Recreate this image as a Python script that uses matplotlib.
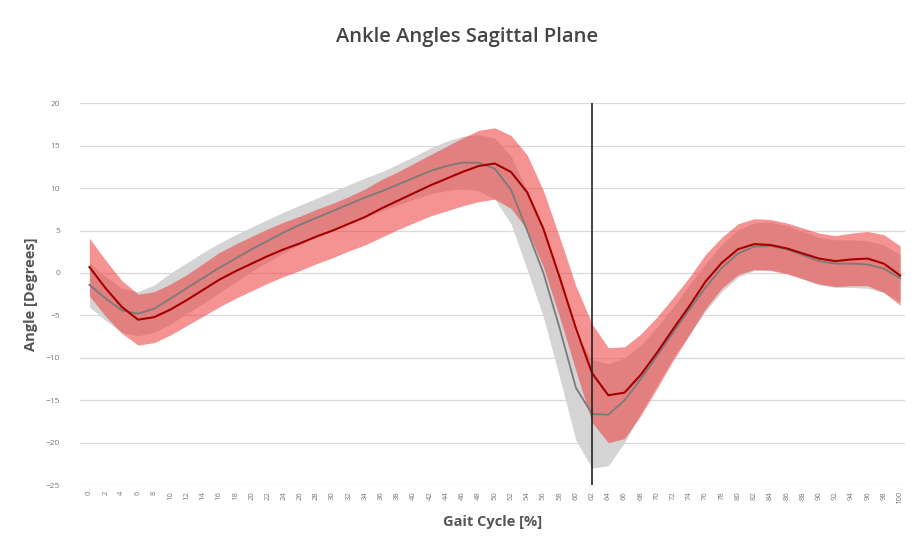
import numpy as np
import matplotlib
matplotlib.use("Agg")
import matplotlib.pyplot as plt

plt.rcParams["font.family"] = ["Open Sans", "DejaVu Sans"]

gait_pct = list(range(0, 101, 2))

red_mean = [0.7, -1.8, -4.0, -5.5, -5.2, -4.3, -3.2, -2.0, -0.8, 0.2,
            1.1, 2.0, 2.8, 3.5, 4.3, 5.0, 5.8, 6.6, 7.6, 8.5,
            9.4, 10.3, 11.1, 11.9, 12.6, 12.9, 11.9, 9.5, 5.2, -0.5,
            -6.5, -11.8, -14.4, -14.1, -12.0, -9.4, -6.6, -3.9, -1.0, 1.2,
            2.8, 3.4, 3.3, 2.9, 2.3, 1.7, 1.4, 1.6, 1.7, 1.1,
            -0.3]
red_sd = [3.4, 3.3, 3.1, 3.0, 3.0, 3.0, 3.0, 3.1, 3.2, 3.2,
          3.2, 3.2, 3.2, 3.2, 3.2, 3.2, 3.2, 3.3, 3.4, 3.4,
          3.5, 3.6, 3.8, 4.0, 4.2, 4.2, 4.3, 4.4, 4.5, 4.7,
          5.0, 5.8, 5.6, 5.4, 4.8, 4.2, 3.7, 3.4, 3.2, 3.0,
          3.0, 3.0, 3.0, 3.0, 3.0, 3.0, 3.0, 3.1, 3.2, 3.4,
          3.5]

gray_mean = [-1.4, -3.0, -4.4, -4.8, -4.2, -3.0, -1.8, -0.6, 0.6, 1.7,
             2.8, 3.8, 4.8, 5.7, 6.5, 7.3, 8.1, 8.9, 9.6, 10.4,
             11.2, 12.0, 12.6, 13.0, 13.0, 12.3, 9.8, 5.0, 0.0, -6.5,
             -13.5, -16.6, -16.7, -15.0, -12.5, -9.8, -7.0, -4.3, -1.7, 0.6,
             2.3, 3.1, 3.2, 2.8, 2.1, 1.4, 1.1, 1.1, 1.0, 0.5,
             -0.6]
gray_sd = [2.6, 2.6, 2.6, 2.6, 2.8, 3.0, 3.0, 3.0, 2.9, 2.8,
           2.6, 2.5, 2.4, 2.3, 2.3, 2.3, 2.3, 2.3, 2.3, 2.4,
           2.5, 2.7, 2.9, 3.1, 3.3, 3.6, 4.0, 4.6, 5.2, 5.8,
           6.2, 6.4, 6.0, 5.0, 4.0, 3.4, 3.0, 2.9, 2.8, 2.8,
           2.8, 2.8, 2.8, 2.8, 2.8, 2.8, 2.8, 2.8, 2.8, 2.8,
           2.8]

toe_off = 62

x = np.array(gait_pct)
rm, rs = np.array(red_mean), np.array(red_sd)
gm, gs = np.array(gray_mean), np.array(gray_sd)

fig = plt.figure(figsize=(9.16, 5.52), dpi=100)
ax = fig.add_axes([0.087, 0.121, 0.901, 0.692])

ax.fill_between(x, gm - gs, gm + gs, color="#d4d4d4", lw=0, zorder=2)
ax.fill_between(x, rm - rs, rm + rs, color="#ee3b3b", alpha=0.55, lw=0, zorder=3)
ax.plot(x, gm, color="#7a7a7a", lw=1.3, zorder=4)
ax.plot(x, rm, color="#a50000", lw=1.5, zorder=5)
ax.axvline(toe_off, color="#222222", lw=1.2, zorder=6)

ax.set_xlim(-1.2, 100.6)
ax.set_ylim(-25, 20)
ax.set_yticks(range(-25, 21, 5))
ax.set_xticks(gait_pct)
ax.set_xticklabels([str(v) for v in gait_pct], rotation=90, fontsize=5.5, color="#777777")
ax.tick_params(axis="y", labelsize=6, labelcolor="#777777", length=0, pad=14)
ax.tick_params(axis="x", length=0, pad=4)
ax.grid(axis="y", color="#d9d9d9", lw=0.9, zorder=0)
for s in ax.spines.values():
    s.set_visible(False)

ax.set_title("Ankle Angles Sagittal Plane", fontsize=14.5, fontweight="semibold",
             color="#444444", pad=44, x=0.469)
ax.set_ylabel("Angle [Degrees]", fontsize=10.5, fontweight="bold", color="#555555", labelpad=6)
ax.set_xlabel("Gait Cycle [%]", fontsize=10.5, fontweight="bold", color="#555555", labelpad=8)

fig.savefig("out.png", dpi=100, facecolor="white")
